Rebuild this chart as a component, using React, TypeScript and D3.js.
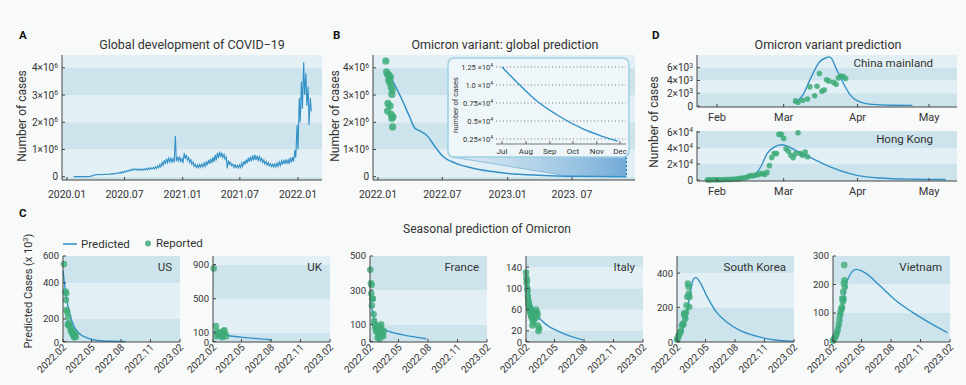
import React from 'react';
import * as d3 from 'd3';

// ---------------- DATA ----------------
// Panel A: global daily cases (millions), weekly peak / weekly trough
const globalWeekStart = '2020-01-20';
const globalWeeklyHigh = [
  0.002, 0.003,
  0.003, 0.005, 0.004, 0.004,
  0.004, 0.01, 0.03, 0.06, 0.08,
  0.09, 0.09, 0.09, 0.09,
  0.09, 0.1, 0.11, 0.12,
  0.13, 0.14, 0.16, 0.18, 0.2,
  0.22, 0.24, 0.27, 0.29,
  0.28, 0.29, 0.28, 0.28, 0.29,
  0.3, 0.32, 0.33, 0.34,
  0.36, 0.4, 0.45, 0.52,
  0.6, 0.66, 0.68, 0.68, 0.66,
  1.5, 0.74, 0.72, 0.66,
  0.88, 0.8, 0.7, 0.62,
  0.54, 0.46, 0.43, 0.45,
  0.47, 0.5, 0.56, 0.62, 0.66,
  0.72, 0.8, 0.88, 0.92,
  0.88, 0.82, 0.72, 0.6, 0.52,
  0.46, 0.43, 0.42, 0.44,
  0.5, 0.57, 0.63, 0.7,
  0.74, 0.78, 0.8, 0.77, 0.74,
  0.68, 0.62, 0.56, 0.52,
  0.48, 0.46, 0.47, 0.5,
  0.54, 0.58, 0.62, 0.64, 0.62,
  0.7, 0.72, 0.98, 1.9,
  2.9, 3.5, 4.2, 3.8, 3.3,
  2.9,
];
const globalWeeklyLow = [
  0.001, 0.002,
  0.002, 0.003, 0.003, 0.003,
  0.003, 0.008, 0.025, 0.05, 0.07,
  0.075, 0.075, 0.075, 0.08,
  0.08, 0.085, 0.09, 0.1,
  0.11, 0.12, 0.13, 0.15, 0.17,
  0.19, 0.21, 0.23, 0.25,
  0.24, 0.24, 0.24, 0.24, 0.24,
  0.25, 0.27, 0.28, 0.29,
  0.3, 0.33, 0.37, 0.42,
  0.46, 0.52, 0.54, 0.54, 0.52,
  0.56, 0.58, 0.56, 0.5,
  0.66, 0.6, 0.52, 0.46,
  0.38, 0.34, 0.33, 0.35,
  0.36, 0.38, 0.42, 0.47, 0.5,
  0.54, 0.6, 0.68, 0.72,
  0.7, 0.64, 0.3, 0.46, 0.4,
  0.34, 0.33, 0.32, 0.34,
  0.38, 0.44, 0.49, 0.54,
  0.57, 0.6, 0.62, 0.6, 0.58,
  0.52, 0.47, 0.43, 0.4,
  0.37, 0.35, 0.36, 0.38,
  0.41, 0.44, 0.47, 0.49, 0.47,
  0.53, 0.55, 0.7, 1.0,
  2.0, 2.5, 3.0, 2.6, 1.9,
  2.4,
];
const globalYTicks = [0, 1, 2, 3, 4];
const globalXTicks = ['2020-01-01', '2020-07-01', '2021-01-01', '2021-07-01', '2022-01-01'];
const globalXTickLabels = ['2020.01', '2020.07', '2021.01', '2021.07', '2022.01'];

// Panel B: Omicron global prediction (millions)
const omicronPredicted: [string, number][] = [
  ['2022-02-03', 3.7], ['2022-02-22', 3.25], ['2022-03-12', 2.76], ['2022-03-31', 2.2],
  ['2022-04-14', 1.8], ['2022-04-29', 1.68], ['2022-05-17', 1.53], ['2022-06-14', 1.04],
  ['2022-07-03', 0.74], ['2022-08-06', 0.5], ['2022-09-17', 0.34], ['2022-11-12', 0.2],
  ['2023-01-01', 0.12], ['2023-04-01', 0.05], ['2023-07-01', 0.0125], ['2023-12-01', 0.0022],
];
const omicronReported: [string, number][] = [
  ['2022-01-23', 4.25], ['2022-01-25', 3.85], ['2022-01-28', 3.76], ['2022-02-01', 3.73],
  ['2022-02-05', 3.65], ['2022-01-31', 3.55], ['2022-02-03', 3.46], ['2022-02-07', 3.3],
  ['2022-02-10', 3.18], ['2022-02-09', 3.02], ['2022-01-29', 2.69], ['2022-02-04', 2.6],
  ['2022-01-28', 2.41], ['2022-02-07', 2.29], ['2022-02-12', 2.2], ['2022-02-09', 2.14],
  ['2022-02-11', 1.83],
];
const omicronXTicks = ['2022-01-01', '2022-07-01', '2023-01-01', '2023-07-01'];
const omicronXTickLabels = ['2022.01', '2022.07', '2023.01', '2023. 07'];
// Inset (x 10^4)
const insetPredicted: [string, number][] = [
  ['2023-07-01', 1.25], ['2023-07-24', 1.0], ['2023-08-16', 0.77], ['2023-09-11', 0.58],
  ['2023-10-12', 0.4], ['2023-11-07', 0.29], ['2023-11-28', 0.22],
];
const insetYTicks = [0.25, 0.5, 0.75, 1.0, 1.25];
const insetYTickLabels = ['0.25', '0.5', '0.75', '1.0 ', '1.25 '];
const insetXTicks = ['2023-07-01', '2023-08-01', '2023-09-01', '2023-10-01', '2023-11-01', '2023-12-01'];
const insetXTickLabels = ['Jul', 'Aug', 'Sep', 'Oct', 'Nov', 'Dec'];

// Panel D (China: thousands, Hong Kong: thousands)
const chinaPredicted: [string, number][] = [
  ['2022-03-05', 0.5], ['2022-03-07', 0.9], ['2022-03-09', 1.7], ['2022-03-12', 4.1],
  ['2022-03-16', 6.9], ['2022-03-19', 7.6], ['2022-03-20', 7.7], ['2022-03-21', 7.5],
  ['2022-03-23', 5.9], ['2022-03-26', 3.6], ['2022-03-29', 1.7], ['2022-04-01', 0.8],
  ['2022-04-07', 0.25], ['2022-04-15', 0.12], ['2022-04-24', 0.1],
];
const chinaReported: [string, number][] = [
  ['2022-03-06', 0.8], ['2022-03-07', 0.6], ['2022-03-09', 0.9], ['2022-03-11', 1.1],
  ['2022-03-12', 3.0], ['2022-03-14', 1.6], ['2022-03-15', 3.1], ['2022-03-16', 5.1],
  ['2022-03-17', 2.3], ['2022-03-18', 2.5], ['2022-03-19', 4.1], ['2022-03-20', 3.9],
  ['2022-03-22', 3.7], ['2022-03-23', 3.4], ['2022-03-24', 4.4], ['2022-03-25', 4.7],
  ['2022-03-26', 4.6], ['2022-03-27', 4.3],
];
const hkPredicted: [string, number][] = [
  ['2022-01-27', 0.3], ['2022-02-05', 0.8], ['2022-02-12', 2.0], ['2022-02-15', 4.5],
  ['2022-02-18', 10], ['2022-02-20', 20], ['2022-02-22', 33], ['2022-02-25', 41],
  ['2022-02-28', 44], ['2022-03-02', 43], ['2022-03-06', 37], ['2022-03-13', 27],
  ['2022-03-20', 17], ['2022-03-30', 7], ['2022-04-10', 2.5], ['2022-04-25', 1],
  ['2022-05-08', 0.6],
];
const hkReported: [string, number][] = [
  ['2022-01-28', 0.1], ['2022-01-29', 0.1], ['2022-01-30', 0.2], ['2022-01-31', 0.2],
  ['2022-02-01', 0.3], ['2022-02-02', 0.3], ['2022-02-03', 0.4], ['2022-02-04', 0.5],
  ['2022-02-05', 0.6], ['2022-02-06', 0.7], ['2022-02-07', 0.8], ['2022-02-08', 1.0],
  ['2022-02-09', 1.3], ['2022-02-10', 1.6], ['2022-02-11', 2.0], ['2022-02-12', 2.5],
  ['2022-02-13', 3.0], ['2022-02-14', 4.0], ['2022-02-15', 5.5], ['2022-02-16', 5.0],
  ['2022-02-17', 6.0], ['2022-02-18', 6.5], ['2022-02-19', 7.5], ['2022-02-20', 8.0],
  ['2022-02-21', 7.0], ['2022-02-22', 9.5], ['2022-02-23', 18], ['2022-02-24', 28],
  ['2022-02-25', 33], ['2022-02-26', 33], ['2022-02-27', 57], ['2022-02-28', 57],
  ['2022-03-01', 52], ['2022-03-02', 39], ['2022-03-03', 36], ['2022-03-04', 31],
  ['2022-03-05', 28], ['2022-03-06', 33], ['2022-03-07', 59], ['2022-03-08', 33],
  ['2022-03-09', 31], ['2022-03-10', 35], ['2022-03-11', 29],
];
const dXTicks = ['2022-02-01', '2022-03-01', '2022-04-01', '2022-05-01'];
const dXTickLabels = ['Feb', 'Mar', 'Apr', 'May'];
const chinaYTicks = [0, 2, 4, 6];
const hkYTicks = [0, 20, 40, 60];

// Panel C: seasonal prediction (x 10^3)
const cXTicks = ['2022-02-01', '2022-05-01', '2022-08-01', '2022-11-01', '2023-02-01'];
const cXTickLabels = ['2022.02', '2022.05', '2022.08', '2022.11', '2023.02'];
const cCountries = ['US', 'UK', 'France', 'Italy', 'South Korea', 'Vietnam'];

const usTicks = [0, 200, 400, 600];
const usPredicted: [string, number][] = [
  ['2022-02-01', 490], ['2022-02-12', 315], ['2022-02-23', 222], ['2022-03-05', 148],
  ['2022-03-22', 76], ['2022-04-17', 32], ['2022-05-19', 9], ['2022-07-01', 2], ['2022-08-15', 0.5],
];
const usReported: [string, number][] = [
  ['2022-02-04', 540], ['2022-02-09', 352], ['2022-02-11', 343], ['2022-02-10', 306],
  ['2022-02-12', 250], ['2022-02-14', 240], ['2022-02-17', 213], ['2022-02-16', 150],
  ['2022-02-19', 163], ['2022-02-21', 142], ['2022-02-24', 120], ['2022-02-26', 90],
  ['2022-03-01', 100], ['2022-03-03', 67], ['2022-03-05', 61], ['2022-03-07', 46],
  ['2022-03-09', 55], ['2022-03-11', 70], ['2022-03-13', 40], ['2022-03-08', 37],
];
const ukTicks = [0, 100, 500, 900];
const ukPredicted: [string, number][] = [
  ['2022-02-01', 125], ['2022-02-15', 100], ['2022-03-05', 80], ['2022-04-03', 62],
  ['2022-05-05', 48], ['2022-06-05', 39], ['2022-07-05', 28], ['2022-08-03', 20],
];
const ukReported: [string, number][] = [
  ['2022-02-03', 855], ['2022-02-10', 180], ['2022-02-14', 120], ['2022-02-17', 90],
  ['2022-02-20', 70], ['2022-02-24', 102], ['2022-02-27', 62], ['2022-03-02', 51],
  ['2022-03-05', 118], ['2022-03-08', 130], ['2022-03-11', 90], ['2022-03-14', 60],
  ['2022-02-12', 60], ['2022-03-01', 80],
];
const franceTicks = [0, 100, 300, 500];
const francePredicted: [string, number][] = [
  ['2022-02-01', 290], ['2022-02-03', 251], ['2022-02-11', 153], ['2022-02-26', 94],
  ['2022-03-24', 65], ['2022-05-16', 39], ['2022-07-27', 16],
];
const franceReported: [string, number][] = [
  ['2022-02-02', 420], ['2022-02-04', 340], ['2022-02-06', 330], ['2022-02-05', 280],
  ['2022-02-08', 250], ['2022-02-10', 250], ['2022-02-07', 210], ['2022-02-12', 160],
  ['2022-02-14', 120], ['2022-02-16', 100], ['2022-02-18', 80], ['2022-02-20', 60],
  ['2022-02-22', 90], ['2022-02-24', 70], ['2022-02-26', 50], ['2022-02-28', 40],
  ['2022-03-02', 90], ['2022-03-04', 60], ['2022-03-06', 80], ['2022-03-08', 100],
  ['2022-03-10', 70], ['2022-03-12', 40], ['2022-03-14', 30], ['2022-03-16', 60],
  ['2022-02-25', 20], ['2022-03-03', 15],
];
const italyTicks = [0, 20, 60, 100, 140];
const italyPredicted: [string, number][] = [
  ['2022-02-01', 132], ['2022-02-08', 97], ['2022-02-23', 62], ['2022-03-26', 37],
  ['2022-05-17', 18], ['2022-07-29', 3],
];
const italyReported: [string, number][] = [
  ['2022-02-01', 130], ['2022-02-02', 120], ['2022-02-03', 110], ['2022-02-04', 115],
  ['2022-02-05', 100], ['2022-02-06', 95], ['2022-02-07', 85], ['2022-02-08', 78],
  ['2022-02-09', 72], ['2022-02-10', 70], ['2022-02-11', 65], ['2022-02-12', 62],
  ['2022-02-13', 58], ['2022-02-14', 55], ['2022-02-15', 60], ['2022-02-16', 52],
  ['2022-02-17', 48], ['2022-02-18', 55], ['2022-02-19', 45], ['2022-02-20', 50],
  ['2022-02-22', 40], ['2022-02-24', 35], ['2022-02-26', 42], ['2022-02-28', 50],
  ['2022-03-02', 55], ['2022-03-04', 60], ['2022-03-06', 45], ['2022-03-08', 55],
  ['2022-03-10', 30], ['2022-03-12', 20], ['2022-03-14', 25], ['2022-03-09', 50],
  ['2022-02-21', 30],
];
const koreaTicks = [0, 200, 400];
const koreaPredicted: [string, number][] = [
  ['2022-02-01', 6], ['2022-02-16', 55], ['2022-03-03', 153], ['2022-03-13', 270],
  ['2022-03-23', 359], ['2022-03-31', 375], ['2022-04-13', 349], ['2022-05-04', 270],
  ['2022-06-04', 172], ['2022-07-06', 114], ['2022-08-16', 65], ['2022-10-07', 31],
  ['2022-11-29', 10], ['2023-01-31', 1],
];
const koreaReported: [string, number][] = [
  ['2022-02-01', 10], ['2022-02-03', 18], ['2022-02-06', 35], ['2022-02-08', 40],
  ['2022-02-11', 55], ['2022-02-13', 60], ['2022-02-16', 94], ['2022-02-19', 104],
  ['2022-02-21', 100], ['2022-02-23', 163], ['2022-02-25', 150], ['2022-02-27', 133],
  ['2022-03-01', 170], ['2022-03-03', 212], ['2022-03-05', 261], ['2022-03-07', 339],
  ['2022-03-09', 320], ['2022-03-11', 202], ['2022-03-10', 280], ['2022-03-12', 260],
];
const vietnamTicks = [0, 100, 200, 300];
const vietnamPredicted: [string, number][] = [
  ['2022-02-01', 0], ['2022-02-13', 21], ['2022-02-23', 68], ['2022-03-07', 151],
  ['2022-03-20', 221], ['2022-04-14', 253], ['2022-05-15', 239], ['2022-06-25', 198],
  ['2022-08-15', 145], ['2022-10-05', 104], ['2022-11-26', 68], ['2023-01-24', 31],
];
const vietnamReported: [string, number][] = [
  ['2022-02-01', 3], ['2022-02-04', 8], ['2022-02-07', 14], ['2022-02-10', 20],
  ['2022-02-13', 30], ['2022-02-16', 42], ['2022-02-19', 58], ['2022-02-21', 75],
  ['2022-02-23', 92], ['2022-02-25', 105], ['2022-02-28', 115], ['2022-03-01', 120],
  ['2022-03-02', 151], ['2022-03-04', 140], ['2022-03-05', 174], ['2022-03-07', 204],
  ['2022-03-08', 268], ['2022-03-09', 215], ['2022-03-10', 192], ['2022-03-06', 150],
];

// ---------------- STYLE ----------------
const FONT = 'Roboto, "Noto Sans", "DejaVu Sans", sans-serif';
const PAGE_BG = '#f8f9f9';
const DARK = '#cde4ed';
const LIGHT = '#e2eff4';
const LINE = '#3391c7';
const DOT = '#3dab78';
const AXIS = '#444';
const TEXT = '#333';

const parse = d3.timeParse('%Y-%m-%d') as (s: string) => Date;

function Sup({ m, e }: { m: string; e: string }) {
  return (
    <>
      {m}×10<tspan fontSize="0.68em" dy="-0.5em">{e}</tspan>
    </>
  );
}

function Bands({ x0, x1, yTop, yBot, y, breaks }: any) {
  const inner = breaks
    .map((b: number) => y(b))
    .filter((p: number) => p > yTop + 1 && p < yBot - 2)
    .sort((a: number, b: number) => b - a);
  const edges = [yBot, ...inner, yTop];
  return (
    <g>
      {edges.slice(0, -1).map((e: number, i: number) => (
        <rect key={i} x={x0} y={edges[i + 1]} width={x1 - x0} height={e - edges[i + 1]} fill={i % 2 === 0 ? DARK : LIGHT} />
      ))}
    </g>
  );
}

function YAxis({ x, yTop, yBot, y, ticks, labels, fs = 10, zeroShift = 0 }: any) {
  return (
    <g>
      <line x1={x} x2={x} y1={yTop} y2={yBot} stroke={AXIS} strokeWidth={1} />
      {ticks.map((t: number, i: number) => (
        <g key={i}>
          <line x1={x} x2={x + 3} y1={y(t)} y2={y(t)} stroke={AXIS} />
          <text x={x - 4} y={y(t) + fs * 0.36 + (t === 0 ? zeroShift : 0)} textAnchor="end" fontSize={fs} fill={TEXT}>
            {labels[i]}
          </text>
        </g>
      ))}
    </g>
  );
}

function XAxis({ y0, x0, x1, x, ticks, labels, fs = 10.5, dy = 15 }: any) {
  return (
    <g>
      <line x1={x0} x2={x1} y1={y0} y2={y0} stroke={AXIS} strokeWidth={1} />
      {ticks.map((t: Date, i: number) => (
        <g key={i}>
          <line x1={x(t)} x2={x(t)} y1={y0 - 3} y2={y0} stroke={AXIS} />
          <text x={x(t)} y={y0 + dy} textAnchor="middle" fontSize={fs} fill={TEXT}>
            {labels[i]}
          </text>
        </g>
      ))}
    </g>
  );
}

function PanelA() {
  const x0 = 62, x1 = 322, yTop = 55, yBot = 180;
  const x = d3.scaleTime().domain([parse('2020-01-01'), parse('2022-01-01')]).range([67, 298]);
  const y = d3.scaleLinear().domain([0, 4]).range([176.7, 67.8]);
  const start = parse(globalWeekStart);
  const pts: [Date, number][] = [];
  globalWeeklyHigh.forEach((h, i) => {
    pts.push([d3.timeDay.offset(start, i * 7 + 2), h]);
    pts.push([d3.timeDay.offset(start, i * 7 + 5), globalWeeklyLow[i]]);
  });
  const line = d3.line<[Date, number]>().x((d) => x(d[0])).y((d) => y(d[1]));
  return (
    <g>
      <text x={19} y={39} fontSize={11.5} fontWeight="bold" fill="#111">A</text>
      <text x={192} y={49} fontSize={12.5} textAnchor="middle" fill={TEXT}>Global development of COVID−19</text>
      <Bands x0={x0} x1={x1} yTop={yTop} yBot={yBot} y={y} breaks={globalYTicks} />
      <path d={line(pts) || ''} fill="none" stroke={LINE} strokeWidth={1.1} />
      <YAxis x={x0} yTop={yTop} yBot={yBot} y={y} ticks={globalYTicks}
        labels={globalYTicks.map((t) => (t === 0 ? '0' : <Sup m={String(t)} e="6" />))} />
      <XAxis y0={yBot} x0={x0} x1={x1} x={x} ticks={globalXTicks.map(parse)} labels={globalXTickLabels} dy={18} />
      <text transform={`translate(26,116) rotate(-90)`} textAnchor="middle" fontSize={12} fill={TEXT}>Number of cases</text>
    </g>
  );
}

function PanelB() {
  const x0 = 373, x1 = 635, yTop = 55, yBot = 180;
  const x = d3.scaleTime().domain([parse('2022-01-01'), parse('2023-07-01')]).range([378, 572]);
  const y = d3.scaleLinear().domain([0, 4]).range([176.7, 67.8]);
  const line = d3.line<[string, number]>().x((d) => x(parse(d[0]))).y((d) => y(d[1])).curve(d3.curveMonotoneX);
  // inset
  const bx0 = 448, bx1 = 629, by0 = 58, by1 = 157;
  const xi = d3.scaleTime().domain([parse('2023-07-01'), parse('2023-12-01')]).range([502, 620]);
  const yi = d3.scaleLinear().domain([0.25, 1.25]).range([139, 67]);
  const lineI = d3.line<[string, number]>().x((d) => xi(parse(d[0]))).y((d) => yi(d[1])).curve(d3.curveMonotoneX);
  const zl = x(parse('2023-07-01')), zr = x(parse('2023-12-01'));
  const poly = [[bx0 + 4, by1], [zr, by1], [zr, y(0)], [zl, y(0)]];
  return (
    <g>
      <defs>
        <linearGradient id="zoomGrad" x1="0" x2="1" y1="0" y2="0">
          <stop offset="0" stopColor="#9cc6e4" stopOpacity={0.15} />
          <stop offset="1" stopColor="#5e9fd3" stopOpacity={0.85} />
        </linearGradient>
      </defs>
      <text x={333} y={39} fontSize={11.5} fontWeight="bold" fill="#111">B</text>
      <text x={505} y={49} fontSize={12.5} textAnchor="middle" fill={TEXT}>Omicron variant: global prediction</text>
      <Bands x0={x0} x1={x1} yTop={yTop} yBot={yBot} y={y} breaks={globalYTicks} />
      <polygon points={poly.map((p) => p.join(',')).join(' ')} fill="url(#zoomGrad)" />
      <line x1={zr} x2={zr} y1={by1} y2={y(0)} stroke="#2f6fa8" strokeDasharray="2,2" strokeWidth={1} />
      <line x1={bx0 + 4} y1={by1} x2={zl} y2={y(0)} stroke="#7fb3d8" strokeWidth={0.8} />
      <path d={line(omicronPredicted) || ''} fill="none" stroke={LINE} strokeWidth={1.5} />
      {omicronReported.map((d, i) => (
        <circle key={i} cx={x(parse(d[0]))} cy={y(d[1])} r={3.6} fill={DOT} fillOpacity={0.85} />
      ))}
      <YAxis x={x0} yTop={yTop} yBot={yBot} y={y} ticks={globalYTicks}
        labels={globalYTicks.map((t) => (t === 0 ? '0' : <Sup m={String(t)} e="6" />))} />
      <XAxis y0={yBot} x0={x0} x1={x1} x={x} ticks={omicronXTicks.map(parse)} labels={omicronXTickLabels} dy={18} />
      <text transform={`translate(339,116) rotate(-90)`} textAnchor="middle" fontSize={12} fill={TEXT}>Number of cases</text>
      {/* inset */}
      <rect x={bx0} y={by0} width={bx1 - bx0} height={by1 - by0} rx={6} fill="#eef6f9" stroke="#9fd0e4" strokeWidth={1.5} />
      {insetYTicks.map((t, i) => (
        <g key={i}>
          <line x1={496} x2={626} y1={yi(t)} y2={yi(t)} stroke="#666" strokeDasharray="1,2.5" strokeWidth={0.9} />
          <text x={493} y={yi(t) + 2.6} textAnchor="end" fontSize={7.5} fill={TEXT}>
            <Sup m={insetYTickLabels[i]} e="4" />
          </text>
        </g>
      ))}
      <line x1={496} x2={626} y1={144} y2={144} stroke="#777" strokeWidth={1.2} />
      {insetXTicks.map((t, i) => (
        <g key={i}>
          <line x1={xi(parse(t))} x2={xi(parse(t))} y1={141} y2={144} stroke="#666" />
          <text x={xi(parse(t))} y={153.5} textAnchor="middle" fontSize={8} fill={TEXT}>{insetXTickLabels[i]}</text>
        </g>
      ))}
      <path d={lineI(insetPredicted) || ''} fill="none" stroke={LINE} strokeWidth={1.4} />
      <text transform={`translate(458,105) rotate(-90)`} textAnchor="middle" fontSize={7.5} fill={TEXT}>number of cases</text>
    </g>
  );
}

function PanelD() {
  const x0 = 697, x1 = 957;
  const x = d3.scaleTime().domain([parse('2022-02-01'), parse('2022-05-01')]).range([717, 929]);
  const yc = d3.scaleLinear().domain([0, 6]).range([106, 67.7]);
  const yh = d3.scaleLinear().domain([0, 60]).range([180, 132]);
  const lc = d3.line<[string, number]>().x((d) => x(parse(d[0]))).y((d) => yc(d[1])).curve(d3.curveMonotoneX);
  const lh = d3.line<[string, number]>().x((d) => x(parse(d[0]))).y((d) => yh(d[1])).curve(d3.curveMonotoneX);
  const ticks = dXTicks.map(parse);
  return (
    <g>
      <text x={652} y={39} fontSize={11.5} fontWeight="bold" fill="#111">D</text>
      <text x={828} y={49} fontSize={12.5} textAnchor="middle" fill={TEXT}>Omicron variant prediction</text>
      <Bands x0={x0} x1={x1} yTop={55} yBot={107} y={yc} breaks={chinaYTicks} />
      <Bands x0={x0} x1={x1} yTop={131} yBot={181} y={yh} breaks={hkYTicks} />
      <text x={933} y={67} textAnchor="end" fontSize={11.5} fill={TEXT}>China mainland</text>
      <text x={933} y={143} textAnchor="end" fontSize={11.5} fill={TEXT}>Hong Kong</text>
      <path d={lc(chinaPredicted) || ''} fill="none" stroke={LINE} strokeWidth={1.4} />
      <path d={lh(hkPredicted) || ''} fill="none" stroke={LINE} strokeWidth={1.4} />
      {chinaReported.map((d, i) => (
        <circle key={i} cx={x(parse(d[0]))} cy={yc(d[1])} r={2.8} fill={DOT} fillOpacity={0.85} />
      ))}
      {hkReported.map((d, i) => (
        <circle key={i} cx={x(parse(d[0]))} cy={yh(d[1])} r={2.8} fill={DOT} fillOpacity={0.85} />
      ))}
      <YAxis x={x0} yTop={55} yBot={107} y={yc} ticks={chinaYTicks}
        labels={chinaYTicks.map((t) => (t === 0 ? '0' : <Sup m={String(t)} e="3" />))} />
      <YAxis x={x0} yTop={131} yBot={181} y={yh} ticks={hkYTicks}
        labels={hkYTicks.map((t) => (t === 0 ? '0' : <Sup m={String(t / 10)} e="4" />))} />
      <XAxis y0={107} x0={x0} x1={x1} x={x} ticks={ticks} labels={dXTickLabels} fs={11} dy={14} />
      <XAxis y0={181} x0={x0} x1={x1} x={x} ticks={ticks} labels={dXTickLabels} fs={11} dy={14} />
      <text transform={`translate(658,122) rotate(-90)`} textAnchor="middle" fontSize={12} fill={TEXT}>Number of cases</text>
    </g>
  );
}

const cLayout = [
  { left: 63, yDomain: [0, 200, 400, 600], yRange: [341.5, 319, 283, 256] },
  { left: 213, yDomain: [0, 1000], yRange: [341.5, 256] },
  { left: 370, yDomain: [0, 500], yRange: [341.5, 256] },
  { left: 526, yDomain: [0, 161], yRange: [341.5, 256] },
  { left: 677, yDomain: [0, 500], yRange: [341.5, 256] },
  { left: 833, yDomain: [0, 300], yRange: [341.5, 256] },
];
const cSeries = [
  { ticks: usTicks, pred: usPredicted, rep: usReported },
  { ticks: ukTicks, pred: ukPredicted, rep: ukReported },
  { ticks: franceTicks, pred: francePredicted, rep: franceReported },
  { ticks: italyTicks, pred: italyPredicted, rep: italyReported },
  { ticks: koreaTicks, pred: koreaPredicted, rep: koreaReported },
  { ticks: vietnamTicks, pred: vietnamPredicted, rep: vietnamReported },
];

function SmallPlot({ idx }: { idx: number }) {
  const L = cLayout[idx];
  const S = cSeries[idx];
  const x0 = L.left, x1 = L.left + 117, yTop = 256, yBot = 342;
  const x = d3.scaleTime().domain([parse('2022-02-01'), parse('2023-02-01')]).range([x0, x1]);
  const y = d3.scaleLinear().domain(L.yDomain).range(L.yRange);
  const line = d3.line<[string, number]>().x((d) => x(parse(d[0]))).y((d) => y(d[1])).curve(d3.curveMonotoneX);
  const ticks = cXTicks.map(parse);
  return (
    <g>
      <Bands x0={x0} x1={x1} yTop={yTop} yBot={yBot} y={y} breaks={S.ticks} />
      <text x={x1 - 8} y={271} textAnchor="end" fontSize={11.5} fill={TEXT}>{cCountries[idx]}</text>
      <path d={line(S.pred) || ''} fill="none" stroke={LINE} strokeWidth={1.4} />
      {S.rep.map((d, i) => (
        <circle key={i} cx={x(parse(d[0]))} cy={y(d[1])} r={3.3} fill={DOT} fillOpacity={0.8} />
      ))}
      <YAxis x={x0} yTop={yTop} yBot={yBot} y={y} ticks={S.ticks} labels={S.ticks.map(String)} fs={9.5} zeroShift={1.5} />
      <line x1={x0} x2={x1} y1={yBot} y2={yBot} stroke={AXIS} />
      {ticks.map((t, i) => (
        <g key={i}>
          <line x1={x(t)} x2={x(t)} y1={yBot - 3} y2={yBot} stroke={AXIS} />
          <text transform={`translate(${x(t) + 4},${yBot + 6}) rotate(-45)`} textAnchor="end" fontSize={10} fill={TEXT}>
            {cXTickLabels[i]}
          </text>
        </g>
      ))}
    </g>
  );
}

function PanelC() {
  return (
    <g>
      <text x={19} y={217} fontSize={11.5} fontWeight="bold" fill="#111">C</text>
      <text x={487} y={233} fontSize={12} textAnchor="middle" fill={TEXT}>Seasonal prediction of Omicron</text>
      <line x1={63} x2={77} y1={244} y2={244} stroke={LINE} strokeWidth={1.6} />
      <text x={81} y={248} fontSize={11.5} fill={TEXT}>Predicted</text>
      <circle cx={148} cy={243.5} r={3} fill={DOT} fillOpacity={0.85} />
      <text x={156} y={247} fontSize={11.5} fill={TEXT}>Reported</text>
      <text transform={`translate(32,291) rotate(-90)`} textAnchor="middle" fontSize={11} fill={TEXT}>
        Predicted Cases (x 10<tspan fontSize="0.68em" dy="-0.5em">3</tspan><tspan dy="0.34em">)</tspan>
      </text>
      {cCountries.map((_, i) => (
        <SmallPlot key={i} idx={i} />
      ))}
    </g>
  );
}

export default function App() {
  return (
    <svg width={966} height={385} style={{ position: 'absolute', left: 0, top: 0, fontFamily: FONT }}>
      <rect width={966} height={385} fill={PAGE_BG} />
      <PanelA />
      <PanelB />
      <PanelD />
      <PanelC />
    </svg>
  );
}
